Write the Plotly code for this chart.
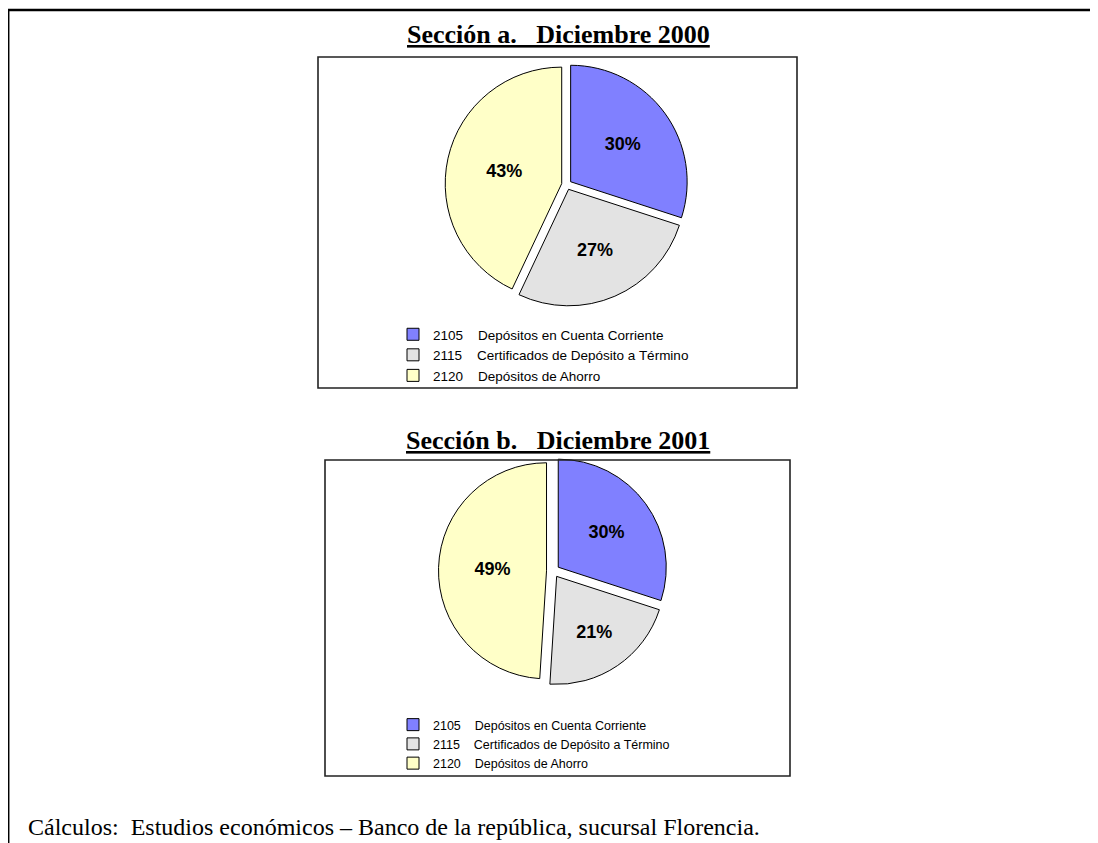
import plotly.graph_objects as go

# page has an 8px body margin: figure is sized to fit the 1098x843 window
OFF = 8
W, H = 1098 - OFF, 843 - OFF

# ---- data ----
codes = ["2105", "2115", "2120"]
names = ["Depósitos en Cuenta Corriente",
         "Certificados de Depósito a Término",
         "Depósitos de Ahorro"]
values_2000 = [30, 27, 43]
values_2001 = [30, 21, 49]
slice_colors = ["#8080FF", "#E3E3E3", "#FFFFC8"]
title_a = "Sección a.&nbsp;&nbsp; Diciembre 2000"
title_b = "Sección b.&nbsp;&nbsp; Diciembre 2001"
footer = "Cálculos:&nbsp; Estudios económicos – Banco de la república, sucursal Florencia."

labels_a = [c + "\u00a0\u00a0\u00a0\u00a0" + n for c, n in zip(codes, names)]
# zero-width suffix keeps the second legend's entries distinct from the first
labels_b = [lab + "\u200b" for lab in labels_a]


def fx(px):
    return (px - OFF) / W


def fy(py):
    return 1 - (py - OFF) / H


def dom(cx, cy, s):
    return dict(x=[fx(cx - s / 2), fx(cx + s / 2)],
                y=[fy(cy + s / 2), fy(cy - s / 2)])


pie_font = dict(family="Liberation Sans, Arial", size=18, color="black", weight="bold")

fig = go.Figure()
fig.add_trace(go.Pie(
    labels=labels_a, values=values_2000, sort=False, direction="clockwise", rotation=0,
    marker=dict(colors=slice_colors, line=dict(color="black", width=1)),
    pull=[0.043] * 3, domain=dom(566.6, 184.7, 243),
    texttemplate="%{percent:.0%}", textposition="inside",
    insidetextorientation="horizontal", textfont=pie_font,
    hoverinfo="label+percent", legend="legend", showlegend=True,
))
fig.add_trace(go.Pie(
    labels=labels_b, values=values_2001, sort=False, direction="clockwise", rotation=0,
    marker=dict(colors=slice_colors, line=dict(color="black", width=1)),
    pull=[0.06] * 3, domain=dom(553, 571, 229),
    texttemplate="%{percent:.0%}", textposition="inside",
    insidetextorientation="horizontal", textfont=pie_font,
    hoverinfo="label+percent", legend="legend2", showlegend=True,
))

legend_font_a = dict(family="Liberation Sans, Arial", size=13.5, color="black")
legend_font_b = dict(family="Liberation Sans, Arial", size=12.5, color="black")
shapes = [
    dict(type="rect", xref="paper", yref="paper", x0=fx(8.2), x1=fx(1120), y0=fy(870), y1=fy(10),
         line=dict(color="black", width=2.5)),
    dict(type="rect", xref="paper", yref="paper", x0=fx(318), x1=fx(797), y0=fy(388), y1=fy(57),
         line=dict(color="#222", width=1.6)),
    dict(type="rect", xref="paper", yref="paper", x0=fx(325), x1=fx(790), y0=fy(776), y1=fy(460),
         line=dict(color="#222", width=1.6)),
]

serif = "Liberation Serif, Times New Roman"
annotations = [
    dict(text="<b><u>" + title_a + "</u></b>", x=fx(558), y=fy(35), xref="paper", yref="paper",
         showarrow=False, xanchor="center", yanchor="middle",
         font=dict(family=serif, size=26, color="black")),
    dict(text="<b><u>" + title_b + "</u></b>", x=fx(558), y=fy(440), xref="paper", yref="paper",
         showarrow=False, xanchor="center", yanchor="middle",
         font=dict(family=serif, size=26, color="black")),
    dict(text=footer, x=fx(26), y=fy(827), xref="paper", yref="paper",
         showarrow=False, xanchor="left", yanchor="middle",
         font=dict(family=serif, size=24, color="black")),
]

fig.update_layout(
    width=W, height=H, margin=dict(l=0, r=0, t=0, b=0),
    paper_bgcolor="white", plot_bgcolor="white",
    font=dict(family="Liberation Sans, Arial", color="black"),
    shapes=shapes, annotations=annotations,
    legend=dict(x=fx(393), y=fy(319), xanchor="left", yanchor="top", font=legend_font_a,
                bgcolor="rgba(0,0,0,0)", borderwidth=0, orientation="v"),
    legend2=dict(x=fx(393), y=fy(710), xanchor="left", yanchor="top", font=legend_font_b,
                 bgcolor="rgba(0,0,0,0)", borderwidth=0, orientation="v"),
)

fig.write_html("out.html")
